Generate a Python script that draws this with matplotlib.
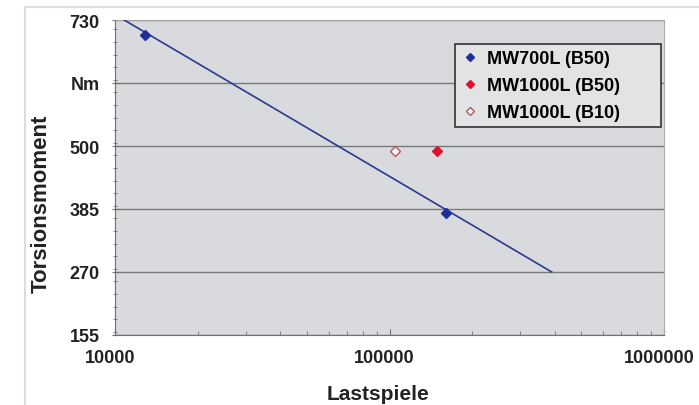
import matplotlib.pyplot as plt
from matplotlib.lines import Line2D
from matplotlib.ticker import FixedLocator, MultipleLocator, NullFormatter
from matplotlib.transforms import ScaledTranslation

# data
fit_x = [10800, 390000]
fit_y = [730, 270]
mw700_x = [12900, 161000]
mw700_y = [703, 378]
mw1000_b50_x = [149000]
mw1000_b50_y = [490]
mw1000_b10_x = [105000]
mw1000_b10_y = [490]

yticks = [155, 270, 385, 500, 615, 730]
ylabels = ['155', '270', '385', '500', 'Nm', '730']
xticks = [10000, 100000, 1000000]
xlabels = ['10000', '100000', '1000000']

plt.rcParams['font.family'] = ['Liberation Sans', 'DejaVu Sans']

fig = plt.figure(figsize=(6.99, 4.06), dpi=100)
ax = fig.add_axes([115/699, 1-336/406, (664-115)/699, (336-21)/406])
ax.set_facecolor('#d9dadd')

# outer frame lines (light grey)
fig.add_artist(Line2D([25/699, 25/699, 1], [0, 1-8/406, 1-8/406], color='#dcdcdc', lw=1.5))

ax.plot(fit_x, fit_y, color='#2a3990', lw=1.2, zorder=3)
ax.plot(mw700_x, mw700_y, 'D', color='#1f2f9a', ms=5, ls='none', zorder=4, label='MW700L (B50)')
ax.plot(mw1000_b50_x, mw1000_b50_y, 'D', color='#e0102a', ms=5, ls='none', zorder=4, label='MW1000L (B50)')
ax.plot(mw1000_b10_x, mw1000_b10_y, 'D', mfc='white', mec='#c05060', mew=1, ms=5, ls='none', zorder=4, label='MW1000L (B10)')

ax.set_xscale('log')
ax.set_xlim(10000, 1000000)
ax.set_ylim(155, 730)
ax.yaxis.set_major_locator(FixedLocator(yticks))
ax.set_yticklabels(ylabels)
ax.yaxis.set_minor_locator(MultipleLocator(23))
ax.set_xticks(xticks)
ax.set_xticklabels(xlabels)
ax.xaxis.set_minor_formatter(NullFormatter())

ax.grid(axis='y', which='major', color='#7a7a7a', lw=1)
for s in ['top', 'right']:
    ax.spines[s].set_color('#a8a8a8')
for s in ['left', 'bottom']:
    ax.spines[s].set_color('#707070')

ax.tick_params(axis='both', which='major', length=4, color='#707070', labelsize=13)
ax.tick_params(axis='both', which='minor', length=3, color='#707070')
ax.tick_params(axis='y', which='both', direction='inout', pad=9)
ax.tick_params(axis='x', which='both', direction='in', pad=10)
shift = ScaledTranslation(-5/100, 0, fig.dpi_scale_trans)
for t in ax.get_xticklabels():
    t.set_transform(t.get_transform() + shift)
for t in ax.get_xticklabels() + ax.get_yticklabels():
    t.set_fontweight('bold')
    t.set_color('#222222')

ax.set_xlabel('Lastspiele', fontsize=15, fontweight='bold', color='#222222')
ax.set_ylabel('Torsionsmoment', fontsize=16, fontweight='bold', color='#222222')
ax.xaxis.set_label_coords(0.479, -0.186)
ax.yaxis.set_label_coords(-0.135, 0.42)
ax.xaxis.label.set_verticalalignment('center')
ax.yaxis.label.set_verticalalignment('center')

leg = ax.legend(loc='upper left', bbox_to_anchor=(0.619, 0.824, 0.375, 0.1), mode='expand',
                frameon=True, fancybox=False,
                prop={'weight': 'bold', 'size': 13}, handlelength=1, handletextpad=0.45,
                borderpad=0.35, labelspacing=0.55, markerscale=0.8, borderaxespad=0)
leg.get_frame().set_edgecolor('#333333')
leg.get_frame().set_facecolor('#e2e3e5')
leg.get_frame().set_linewidth(1.2)
leg.get_frame().set_alpha(1)

fig.savefig('out.png', dpi=100)
